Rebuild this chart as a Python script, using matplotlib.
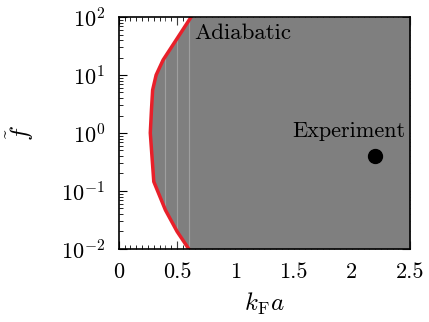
import numpy as np
import matplotlib
matplotlib.use('Agg')
import matplotlib.pyplot as plt

plt.rcParams['font.family'] = 'cmr10'
plt.rcParams['mathtext.fontset'] = 'cm'
plt.rcParams['axes.formatter.use_mathtext'] = True

# boundary of the adiabatic region
f_vals = [1e-2, 10**-1.70, 10**-1.33, 10**-0.84, 1.0, 10**0.4, 10**0.74, 10**1.0, 10**1.26, 1e2]
kfa_vals = [0.60, 0.50, 0.40, 0.30, 0.27, 0.28, 0.29, 0.32, 0.38, 0.62]

# experiment point
exp_kfa = [2.2]
exp_f = [0.4]

fig = plt.figure(figsize=(4.29, 3.22), dpi=100)
ax = fig.add_axes([0.277, 0.227, 0.679, 0.72])

ax.fill_betweenx(f_vals, kfa_vals, 2.5, color='#7f7f7f', zorder=3, lw=0)
for xv in [0.4, 0.5, 0.6]:
    ax.axvline(xv, color='white', alpha=0.25, lw=0.8, zorder=3.5)
ax.plot(kfa_vals, f_vals, color='#e8202a', lw=2.5, zorder=4)
ax.plot(exp_kfa, exp_f, 'o', color='black', ms=10, zorder=5)

ax.set_yscale('log')
ax.set_xlim(0, 2.5)
ax.set_ylim(1e-2, 1e2)
ax.set_xticks([0, 0.5, 1, 1.5, 2, 2.5])
ax.set_xticklabels(['0', '0.5', '1', '1.5', '2', '2.5'])
ax.xaxis.set_minor_locator(matplotlib.ticker.MultipleLocator(0.05))
ax.tick_params(which='both', direction='in', top=True, right=True, labelsize=16)
ax.tick_params(which='major', length=6)
ax.tick_params(which='minor', length=3)
ax.tick_params(axis='y', which='major', pad=10)
ax.tick_params(axis='x', which='major', pad=10)

for s in ax.spines.values():
    s.set_zorder(6)
    s.set_linewidth(1.2)

ax.text(0.65, 10**1.72, 'Adiabatic', fontsize=16.5, va='center', ha='left', zorder=6)
ax.text(1.49, 10**0.03, 'Experiment', fontsize=16, va='center', ha='left', zorder=6)

ax.set_xlabel(r'$k_{\rm F}a$', fontsize=18, labelpad=6)
ax.set_ylabel(r'$\tilde{f}$', fontsize=18, labelpad=18)

fig.savefig('out.png', dpi=100)
